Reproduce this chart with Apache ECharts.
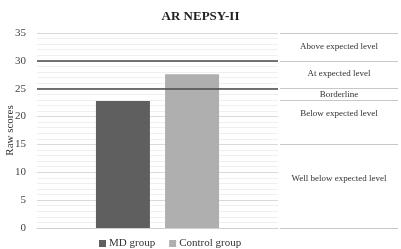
<!DOCTYPE html>
<html>
<head>
<meta charset="utf-8">
<script src="https://cdn.jsdelivr.net/npm/echarts@6/dist/echarts.min.js"></script>
<style>
  html, body { margin: 0; padding: 0; background: #fff; }
  #main { width: 401px; height: 249px; }
</style>
</head>
<body>
<div id="main"></div>
<script>
// 数据
var groups = ['MD group', 'Control group'];
var scores = [22.8, 27.6];
var cutoffs = [30, 25];
var bandNames = ['Above expected level', 'At expected level', 'Borderline', 'Below expected level', 'Well below expected level'];
var bandEdges = [35, 30, 25, 23, 15, 0];
var colors = ['#5f5f5f', '#afafaf'];

var serif = '"Liberation Serif", "DejaVu Serif", serif';
var myChart = echarts.init(document.getElementById('main'));

// 标签偏移（文字位置）
var labelOffsets = [[0, 0], [0, -1], [0, 0], [0, -9], [0, -8]];

var barSeries = groups.map(function (g, i) {
    var s = {
        name: g,
        type: 'bar',
        xAxisIndex: 0,
        yAxisIndex: 0,
        barWidth: 54,
        barGap: '28%',
        itemStyle: { color: colors[i] },
        data: [scores[i]]
    };
    if (i === 0) {
        s.markLine = {
            silent: true,
            symbol: 'none',
            label: { show: false },
            lineStyle: { color: '#4a4a4a', width: 1.6, type: 'solid' },
            data: cutoffs.map(function (v) { return { yAxis: v }; })
        };
    }
    return s;
});

var bandSeries = {
    type: 'line',
    xAxisIndex: 1,
    yAxisIndex: 1,
    data: [],
    markLine: {
        silent: true,
        symbol: 'none',
        label: { show: false },
        lineStyle: { color: '#c8c8c8', width: 1, type: 'solid' },
        data: bandEdges.map(function (v) { return { yAxis: v }; })
    },
    markArea: {
        silent: true,
        itemStyle: { color: 'rgba(0,0,0,0)' },
        data: bandNames.map(function (n, i) {
            return [{
                yAxis: bandEdges[i],
                name: n,
                label: { offset: labelOffsets[i] }
            }, { yAxis: bandEdges[i + 1] }];
        }),
        label: {
            show: true,
            position: 'inside',
            fontFamily: serif,
            fontSize: 9,
            color: '#333'
        }
    }
};

option = {
    animation: false,
    title: {
        text: 'AR NEPSY-II',
        left: 'center',
        top: 5,
        textStyle: { fontFamily: serif, fontWeight: 'bold', fontSize: 13, color: '#222' }
    },
    legend: {
        data: groups,
        icon: 'rect',
        left: 94,
        top: 233,
        itemWidth: 7,
        itemHeight: 7,
        itemGap: 14,
        textStyle: { fontFamily: serif, fontSize: 11, color: '#333', padding: [0, 0, 0, -2] }
    },
    grid: [
        { left: 37, right: 123, top: 33, bottom: 21, containLabel: false, outerBoundsMode: 'none' },
        { left: 280, right: 3, top: 33, bottom: 21, containLabel: false, outerBoundsMode: 'none' }
    ],
    xAxis: [{
        gridIndex: 0,
        type: 'category',
        data: [''],
        axisTick: { show: false },
        axisLabel: { show: false },
        axisLine: { lineStyle: { color: '#d0d0d0' } }
    }, {
        gridIndex: 1,
        type: 'value',
        min: 0,
        max: 1,
        show: false
    }],
    yAxis: [{
        gridIndex: 0,
        type: 'value',
        min: 0,
        max: 35,
        interval: 5,
        name: 'Raw scores',
        nameLocation: 'middle',
        nameGap: 21,
        nameMoveOverlap: false,
        nameTextStyle: { fontFamily: serif, fontSize: 11, color: '#333' },
        axisLabel: { fontFamily: serif, fontSize: 11, color: '#444', margin: 11 },
        axisLine: { show: false },
        axisTick: { show: false },
        splitLine: { lineStyle: { color: '#d9d9d9' } },
        minorTick: { show: false, splitNumber: 5 },
        minorSplitLine: { show: true, lineStyle: { color: '#efefef' } }
    }, {
        gridIndex: 1,
        type: 'value',
        min: 0,
        max: 35,
        show: false
    }],
    series: barSeries.concat([bandSeries])
};

myChart.setOption(option);
</script>
</body>
</html>
